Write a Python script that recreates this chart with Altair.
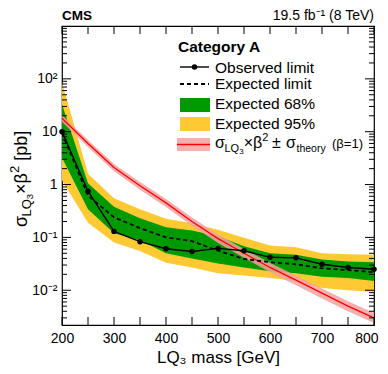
import altair as alt
import pandas as pd

# ---- data ----
mass = [200, 250, 300, 350, 400, 450, 500, 550, 600, 650, 700, 750, 800]
observed = [10.0, 0.75, 0.13, 0.083, 0.061, 0.054, 0.062, 0.056, 0.042, 0.041, 0.031, 0.027, 0.025]
expected = [9.5, 0.62, 0.24, 0.15, 0.10, 0.085, 0.056, 0.039, 0.034, 0.031, 0.026, 0.024, 0.022]
g68_lo = [3.2, 0.34, 0.12, 0.088, 0.050, 0.040, 0.032, 0.027, 0.023, 0.021, 0.018, 0.017, 0.015]
g68_hi = [33.0, 1.06, 0.38, 0.23, 0.155, 0.135, 0.105, 0.068, 0.050, 0.047, 0.038, 0.035, 0.034]
y95_lo = [1.2, 0.19, 0.080, 0.055, 0.033, 0.027, 0.021, 0.019, 0.017, 0.015, 0.011, 0.010, 0.0093]
y95_hi = [85.0, 1.6, 0.55, 0.34, 0.225, 0.186, 0.14, 0.098, 0.070, 0.065, 0.050, 0.048, 0.047]
theory = [18.0, 6.0, 2.1, 0.95, 0.45, 0.20, 0.095, 0.050, 0.027, 0.0155, 0.0088, 0.0050, 0.0030]
theory_lo = [15.5, 5.1, 1.78, 0.80, 0.375, 0.166, 0.078, 0.041, 0.022, 0.0125, 0.0070, 0.0040, 0.0024]
theory_hi = [20.8, 7.0, 2.45, 1.12, 0.53, 0.237, 0.113, 0.060, 0.033, 0.0188, 0.0108, 0.0062, 0.0037]

x_label_values = [200, 300, 400, 500, 600, 700, 800]
x_tick_values = [200, 250, 300, 350, 400, 450, 500, 550, 600, 650, 700, 750, 800]
y_label_values = [0.01, 0.1, 1, 10, 100]
y_major_ticks = [0.01, 0.1, 1, 10, 100]
y_minor_ticks = [m * 10.0 ** e for e in range(-3, 3) for m in range(2, 10)
                 if 0.0022 <= m * 10.0 ** e <= 1000]

df = pd.DataFrame({
    "mass": mass, "obs": observed, "exp": expected,
    "g_lo": g68_lo, "g_hi": g68_hi, "y_lo": y95_lo, "y_hi": y95_hi,
    "th": theory, "th_lo": theory_lo, "th_hi": theory_hi,
})

FONT = "Liberation Sans"
W, H = 312, 299
GREEN = "#009a00"
YELLOW = "#ffc933"
PINK = "#f6a0a0"
RED = "#ff0000"

xs = alt.Scale(domain=[200, 800], nice=False, zero=False)
ys = alt.Scale(type="log", domain=[0.0022, 1000], nice=False)

XAX = alt.Axis(
    values=x_label_values, ticks=False, domain=False, grid=False,
    labelFlush=False, labelOverlap=False, labelBound=False,
    labelAlign={"condition": {"test": "datum.value >= 800", "value": "right"}, "value": "center"},
    labelOffset={"condition": {"test": "datum.value >= 800", "value": 4}, "value": 0},
    labelFont=FONT, labelFontSize=14, labelColor="black", labelPadding=6,
    title="LQ₃ mass [GeV]", titleFont=FONT, titleFontSize=17,
    titleFontWeight="normal", titleColor="black", titleY=37,
    titleBaseline="alphabetic")
YAX = alt.Axis(
    values=y_label_values, ticks=False, domain=False, grid=False,
    labelFlush=False, labelOverlap=False, labelBound=False,
    labelFont=FONT, labelFontSize=14, labelColor="black", labelPadding=5,
    labelExpr="datum.value > 50 ? '10²' : datum.value > 5 ? '10' : datum.value > 0.5 ? '1' : datum.value > 0.05 ? '10⁻¹' : '10⁻²'",
    title="")


def X(f):
    return alt.X(f, scale=xs, axis=XAX, title="LQ₃ mass [GeV]")


def Y(f):
    return alt.Y(f, scale=ys, axis=YAX, title="")


base = alt.Chart(df)

yellow = base.mark_area(color=YELLOW, opacity=1).encode(
    x=X("mass:Q"), y=Y("y_lo:Q"), y2="y_hi:Q")
green = base.mark_area(color=GREEN, opacity=1).encode(
    x=X("mass:Q"), y=Y("g_lo:Q"), y2="g_hi:Q")
theory_band = base.mark_area(color=PINK, opacity=0.85).encode(
    x=X("mass:Q"), y=Y("th_lo:Q"), y2="th_hi:Q")
theory_line = base.mark_line(color=RED, strokeWidth=1.3).encode(
    x=X("mass:Q"), y=Y("th:Q"))
exp_line = base.mark_line(color="black", strokeWidth=1.8, strokeDash=[4, 3]).encode(
    x=X("mass:Q"), y=Y("exp:Q"))
obs_line = base.mark_line(color="black", strokeWidth=1.4).encode(
    x=X("mass:Q"), y=Y("obs:Q"))
obs_pts = base.mark_point(filled=True, color="black", size=30, opacity=1).encode(
    x=X("mass:Q"), y=Y("obs:Q"))

# ---- inward ticks (ROOT style) ----
xt = alt.Chart(pd.DataFrame({"mass": x_tick_values}))
xt_bot = xt.mark_rule(color="black", strokeWidth=1).encode(
    x=X("mass:Q"), y=alt.value(H), y2=alt.value(H - 8))
xt_top = xt.mark_rule(color="black", strokeWidth=1).encode(
    x=X("mass:Q"), y=alt.value(0), y2=alt.value(8))
ymaj = alt.Chart(pd.DataFrame({"obs": y_major_ticks}))
ymin = alt.Chart(pd.DataFrame({"obs": y_minor_ticks}))
ticks_y = []
for src, ln in ((ymaj, 9), (ymin, 5)):
    ticks_y.append(src.mark_rule(color="black", strokeWidth=1).encode(
        y=Y("obs:Q"), x=alt.value(0), x2=alt.value(ln)))
    ticks_y.append(src.mark_rule(color="black", strokeWidth=1).encode(
        y=Y("obs:Q"), x=alt.value(W), x2=alt.value(W - ln)))

one = alt.Data(values=[{"a": 1}])


def txt(s, x, y, size, align="left", weight="normal", angle=0):
    return alt.Chart(one).mark_text(
        text=s, font=FONT, fontSize=size, align=align, baseline="alphabetic",
        fontWeight=weight, angle=angle, color="black").encode(
        x=alt.value(x), y=alt.value(y))


def rect(x1, x2, y1, y2, color, opacity=1.0):
    return alt.Chart(one).mark_rect(color=color, opacity=opacity).encode(
        x=alt.value(x1), x2=alt.value(x2), y=alt.value(y1), y2=alt.value(y2))


def hline(x1, x2, y, color, width, dash=None):
    kw = dict(color=color, strokeWidth=width)
    if dash:
        kw["strokeDash"] = dash
    return alt.Chart(one).mark_rule(**kw).encode(
        x=alt.value(x1), x2=alt.value(x2), y=alt.value(y))


annot = [
    # header
    txt("CMS", 0, -6, 13.5, weight="bold"),
    txt("19.5 fb⁻¹ (8 TeV)", W, -6, 14, align="right"),
    # legend
    txt("Category A", 116, 25.7, 15.5, weight="bold"),
    hline(118, 147, 41, "black", 1.4),
    alt.Chart(one).mark_point(filled=True, color="black", size=30, opacity=1).encode(
        x=alt.value(132.5), y=alt.value(41)),
    txt("Observed limit", 153, 46.5, 15.5),
    hline(118, 147, 58, "black", 1.8, [4, 3]),
    txt("Expected limit", 153, 63.3, 15.5),
    rect(118, 148, 72, 86, GREEN),
    txt("Expected 68%", 153, 83.3, 15.5),
    rect(118, 148, 91, 105, YELLOW),
    txt("Expected 95%", 153, 103, 15.5),
    rect(115, 148, 112, 125, PINK, 0.85),
    hline(115, 148, 118.5, RED, 1.3),
    txt("σ", 153, 122, 16),
    txt("LQ", 162.5, 126, 11),
    txt("3", 177.2, 128, 8),
    txt("×", 181.7, 122, 16),
    txt("β", 191, 122, 16),
    txt("2", 200.3, 115, 11),
    txt("±", 210, 122, 16),
    txt("σ", 224, 122, 16),
    txt("theory", 234.5, 126, 10.5),
    txt("(β=1)", 270, 122, 13),
    # y-axis title (rotated, composed)
    txt("σ", -35, 201, 18, angle=270),
    txt("LQ", -31, 190.5, 13, angle=270),
    txt("3", -29, 173.2, 9.5, angle=270),
    txt("×", -35, 167.9, 18, angle=270),
    txt("β", -35, 157.4, 18, angle=270),
    txt("2", -43, 147, 13, angle=270),
    txt("[pb]", -35, 134.8, 18, angle=270),
]

chart = alt.layer(
    yellow, green, theory_band, theory_line, exp_line, obs_line, obs_pts,
    xt_bot, xt_top, *ticks_y, *annot,
).properties(
    width=W, height=H,
    padding={"left": 54, "top": 18, "right": 6, "bottom": 41},
    autosize=alt.AutoSizeParams(type="none"),
).configure_view(stroke="black", strokeWidth=1.2)

chart.save("out.html", embed_options={"renderer": "svg", "actions": False})
